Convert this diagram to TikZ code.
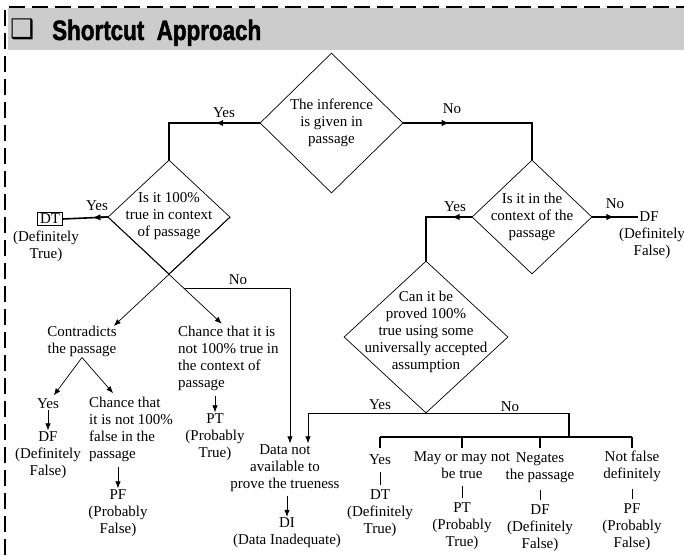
\documentclass[tikz,border=0pt]{standalone}
\usepackage{fontspec}
\setmainfont{Liberation Serif}
\newfontfamily\headfont[FakeStretch=0.8,FakeBold=1.6]{Liberation Sans Bold}
\newfontfamily\symfont{DejaVu Sans}
\usepackage{xcolor}
\usetikzlibrary{arrows.meta,shapes.geometric,calc}

\definecolor{bandgray}{RGB}{204,204,204}
\newcommand{\flowfont}{\fontsize{15}{17}\selectfont}

\tikzset{
  decision/.style={diamond,draw,line width=0.7pt,inner sep=0pt},
  txt/.style={align=center,font=\flowfont,inner sep=1pt},
  lbl/.style={font=\flowfont,inner sep=0pt},
  flow/.style={line width=1.6pt},
  thinflow/.style={line width=0.7pt},
  arr/.style={-{Latex[length=7pt,width=5.5pt]}},
  midarr/.style={-{Latex[length=8pt,width=6.5pt]}},
  vbar/.style={line width=0.4pt}
}

\begin{document}
\begin{tikzpicture}[x=1pt,y=-1pt]
  \useasboundingbox (0,0) rectangle (684,555);
  % heading band and dashed frame
  \fill[bandgray] (8,8) rectangle (684,50);
  \draw[line width=2.5pt,dash pattern=on 16pt off 7pt] (5,555) -- (5,7) -- (684,7);
  \node[anchor=base west,inner sep=0pt,font=\symfont\fontsize{27}{27}\selectfont] (bullet) at (10,38) {❑};
  \node[anchor=base west,inner sep=0pt,font=\headfont\fontsize{28}{28}\selectfont] (title) at (52,40) {Shortcut\ \ Approach};

  % decisions
  \node[decision,minimum width=143,minimum height=140] (given) at (331.5,123) {};
  \node[txt] (givenText) at (given) {The inference\\is given in\\passage};
  \node[decision,minimum width=122,minimum height=114] (sure) at (169,217) {};
  \node[txt] (sureText) at (169,216) {Is it 100\%\\true in context\\of passage};
  \node[decision,minimum width=120,minimum height=114] (context) at (532,217) {};
  \node[txt] (contextText) at (context) {Is it in the\\context of the\\passage};
  \node[decision,minimum width=164,minimum height=152] (proved) at (426,337) {};
  \node[txt] (provedText) at (426,332) {Can it be\\proved 100\%\\true using some\\universally accepted\\assumption};

  % outcomes, left side
  \node[draw,line width=0.6pt,font=\flowfont,inner xsep=2.5pt,inner ysep=1.5pt] (dt) at (50,219) {DT};
  \node[txt] (dtnote) at (46,246) {(Definitely\\True)};
  \node[txt] (contra) at (82,341) {Contradicts\\the passage};
  \node[txt] (cyes) at (48,404) {Yes};
  \node[txt] (cdf) at (48,455) {DF\\(Definitely\\False)};
  \node[txt,anchor=west,align=left] (cchance) at (88,429) {Chance that\\it is not 100\%\\false in the\\passage};
  \node[txt] (cpf) at (118,513) {PF\\(Probably\\False)};
  \node[txt,anchor=west,align=left] (rchance) at (177,358) {Chance that it is\\not 100\% true in\\the context of\\passage};
  \node[txt] (rpt) at (215,437) {PT\\(Probably\\True)};
  \node[txt] (data) at (285,468) {Data not\\available to\\prove the trueness};
  \node[txt] (di) at (287,533) {DI\\(Data Inadequate)};

  % outcomes, right side
  \node[txt] (rdf) at (649,217) {DF};
  \node[txt] (rdfnote) at (652,243) {(Definitely\\False)};
  \node[txt] (opt1) at (380,460) {Yes};
  \node[txt] (opt2) at (462,465) {May or may not\\be true};
  \node[txt] (opt3) at (540,468) {Negates\\the passage};
  \node[txt] (opt4) at (632,466) {Not false\\definitely};
  \node[txt] (res1) at (380,513) {DT\\(Definitely\\True)};
  \node[txt] (res2) at (462,526) {PT\\(Probably\\True)};
  \node[txt] (res3) at (540,528) {DF\\(Definitely\\False)};
  \node[txt] (res4) at (632,527) {PF\\(Probably\\False)};

  % branch labels
  \node[lbl] (yesA) at (224,113) {Yes};
  \node[lbl] (noA) at (452,109) {No};
  \node[lbl] (yesB) at (97,206) {Yes};
  \node[lbl] (noB) at (238,280) {No};
  \node[lbl] (yesC) at (455,207) {Yes};
  \node[lbl] (noC) at (615,204) {No};
  \node[lbl] (yesD) at (380,405) {Yes};
  \node[lbl] (noD) at (510,407) {No};

  % connectors with an arrow half way
  \draw[flow] (given.west) -| (sure.north) coordinate[pos=0.245] (yesAtip);
  \draw[flow,midarr] (given.west) -- (yesAtip);
  \draw[flow] (given.east) -| (context.north) coordinate[pos=0.18] (noAtip);
  \draw[flow,midarr] (given.east) -- (noAtip);
  \draw[flow] (sure.west) -- (dt.east) coordinate[pos=0.34] (yesBtip);
  \draw[flow,midarr] (sure.west) -- (yesBtip);
  \draw[flow] (context.east) -- (rdf.west) coordinate[pos=0.48] (noCtip);
  \draw[flow,midarr] (context.east) -- (noCtip);
  \draw[flow] (context.west) -| (proved.north) coordinate[pos=0.22] (yesCtip);
  \draw[flow,midarr] (context.west) -- (yesCtip);

  % the crossing below the second decision
  \coordinate (contip) at ($(sure.east)!1.9!(sure.south)$);
  \coordinate (chtip) at ($(sure.west)!1.86!(sure.south)$);
  \draw[thinflow,arr] (sure.east) -- (contip);
  \draw[thinflow,arr] (sure.west) -- (chtip);
  \path (sure.west) -- (chtip) coordinate[pos=0.67] (nofork);
  \draw[thinflow,arr] (nofork) -| ([xshift=5]data.north);
  \draw[thinflow,arr] (proved.south) -| ([xshift=23]data.north);

  \draw[thinflow,arr,shorten >=3pt] (contra.south) -- ([xshift=4]cyes.north);
  \draw[thinflow,arr,shorten >=3pt] (contra.south) -- ([xshift=-16]cchance.north);
  \draw[thinflow,arr] (cyes) -- (cdf);
  \draw[thinflow,arr,shorten <=4pt] (cpf.north |- cchance.south) -- (cpf.north);
  \draw[thinflow,arr,shorten <=4pt] (rpt.north |- rchance.south) -- (rpt.north);
  \draw[thinflow,arr,shorten <=3pt] (di.north |- data.south) -- (di.north);

  % bracket over the four cases
  \coordinate (brk) at (569,437);
  \draw[flow] (proved.south) -| (brk);
  \draw[flow] (opt1.north |- brk) -- (opt4.north |- brk);
  \foreach \o in {opt1,opt2,opt3,opt4}
    \draw[flow] (\o.north |- brk) -- ++(0,11);
  \foreach \i in {1,...,4}
    \draw[vbar,shorten <=6pt,shorten >=3pt] (res\i.north |- opt\i.south) -- (res\i.north);
\end{tikzpicture}
\end{document}
